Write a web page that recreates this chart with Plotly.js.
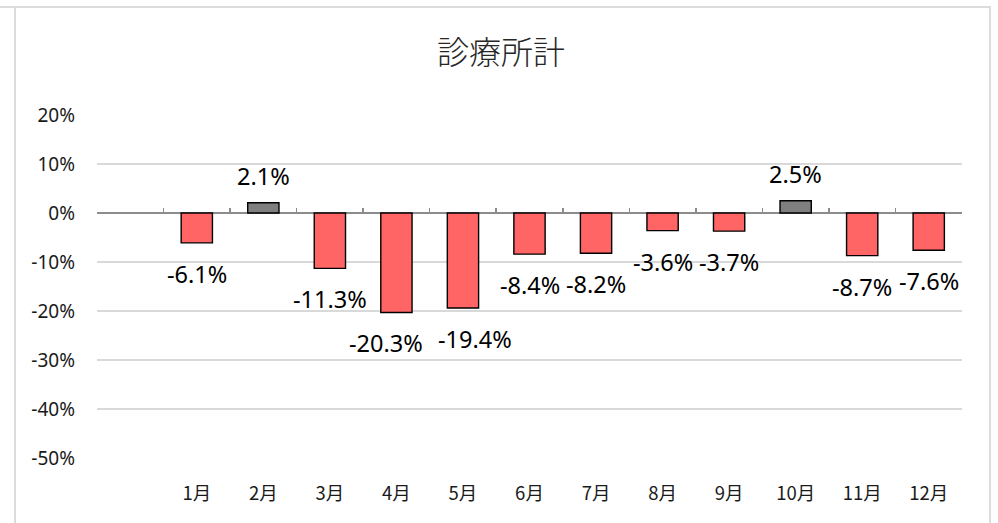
<!DOCTYPE html>
<html>
<head>
<meta charset="utf-8">
<script src="https://cdn.plot.ly/plotly-3.0.1.min.js"></script>
<style>
  html, body { margin: 0; padding: 0; background: #ffffff; }
  #frameTop { position: absolute; left: 0; top: 6px; width: 991px; height: 2px; background: #dcdcdc; }
  #frameL { position: absolute; left: 14px; top: 6px; width: 2px; height: 530px; background: #dcdcdc; }
  #frameR { position: absolute; left: 989px; top: 6px; width: 2px; height: 530px; background: #dcdcdc; }
  #chart { position: absolute; left: 0; top: 0; width: 998px; height: 523px; }
</style>
</head>
<body>
<div id="frameTop"></div>
<div id="frameL"></div>
<div id="frameR"></div>
<div id="chart"></div>
<script>
// ---- data ----
const chartTitle = '診療所計';
const categories = ['', '1月', '2月', '3月', '4月', '5月', '6月', '7月', '8月', '9月', '10月', '11月', '12月'];
const values = [null, -0.061, 0.021, -0.113, -0.203, -0.194, -0.084, -0.082, -0.036, -0.037, 0.025, -0.087, -0.076];
const yTickVals = [-0.5, -0.4, -0.3, -0.2, -0.1, 0, 0.1, 0.2];
const yTickText = ['-50%', '-40%', '-30%', '-20%', '-10%', '0%', '10%', '20%'];

// ---- styles ----
const negColor = '#ff6565';
const posColor = '#7f7f7f';
const labelXShift = [0, 0, 0, 0, -10, 12, 0, 0, 0, 0, 0, 0, 0];

const barColors = values.map(v => (v !== null && v >= 0) ? posColor : negColor);

const bars = {
  type: 'bar',
  x: categories,
  y: values,
  width: 0.47,
  marker: { color: barColors, line: { color: '#000000', width: 1.4 } },
  hoverinfo: 'skip',
  showlegend: false
};

// invisible helper trace so the boundary-tick axis exists
const tickHelper = {
  type: 'scatter',
  mode: 'markers',
  x: categories,
  y: values.map(v => v === null ? 0 : v),
  xaxis: 'x2',
  marker: { opacity: 0, size: 1 },
  hoverinfo: 'skip',
  showlegend: false
};

const annotations = [];
values.forEach((v, i) => {
  if (v === null) return;
  annotations.push({
    x: categories[i],
    y: v,
    xref: 'x',
    yref: 'y',
    text: (v * 100).toFixed(1) + '%',
    showarrow: false,
    xanchor: 'center',
    yanchor: 'middle',
    xshift: labelXShift[i],
    yshift: v < 0 ? -31 : 27,
    font: { family: 'Noto Sans, Open Sans, sans-serif', size: 23.5, color: '#000000' }
  });
});

const layout = {
  width: 998,
  height: 523,
  margin: { l: 97, r: 36, t: 115, b: 65, pad: 0 },
  paper_bgcolor: 'rgba(0,0,0,0)',
  plot_bgcolor: 'rgba(0,0,0,0)',
  title: {
    text: chartTitle,
    x: 0.502,
    xref: 'container',
    xanchor: 'center',
    y: 1 - 53 / 523,
    yref: 'container',
    yanchor: 'middle',
    font: { family: 'Noto Sans CJK JP, sans-serif', size: 32, color: '#262626', weight: 300 }
  },
  xaxis: {
    type: 'category',
    categoryorder: 'array',
    categoryarray: categories,
    range: [-0.5, categories.length - 0.5],
    showgrid: false,
    showline: false,
    zeroline: false,
    ticks: '',
    ticklabelstandoff: 22,
    tickfont: { family: 'Noto Sans CJK JP, sans-serif', size: 18.5, color: '#1a1a1a' },
    fixedrange: true
  },
  xaxis2: {
    type: 'category',
    categoryorder: 'array',
    categoryarray: categories,
    range: [-0.5, categories.length - 0.5],
    overlaying: 'x',
    anchor: 'free',
    position: 0.5 / 0.7,
    side: 'bottom',
    tickson: 'boundaries',
    ticks: 'inside',
    ticklen: 5,
    tickwidth: 1.5,
    tickcolor: '#8c8c8c',
    showticklabels: false,
    showgrid: false,
    showline: false,
    zeroline: false,
    fixedrange: true
  },
  yaxis: {
    range: [-0.5, 0.2],
    tickmode: 'array',
    tickvals: yTickVals,
    ticktext: yTickText,
    showgrid: true,
    gridcolor: '#d9d9d9',
    gridwidth: 1.2,
    zeroline: true,
    zerolinecolor: '#8c8c8c',
    zerolinewidth: 1.6,
    showline: false,
    ticks: '',
    ticklabelstandoff: 21,
    tickfont: { family: 'Noto Sans, Open Sans, sans-serif', size: 19, color: '#1a1a1a' },
    fixedrange: true
  },
  annotations: annotations,
  bargap: 0.5
};

Plotly.newPlot('chart', [bars, tickHelper], layout, { displayModeBar: false, staticPlot: true });
</script>
</body>
</html>
